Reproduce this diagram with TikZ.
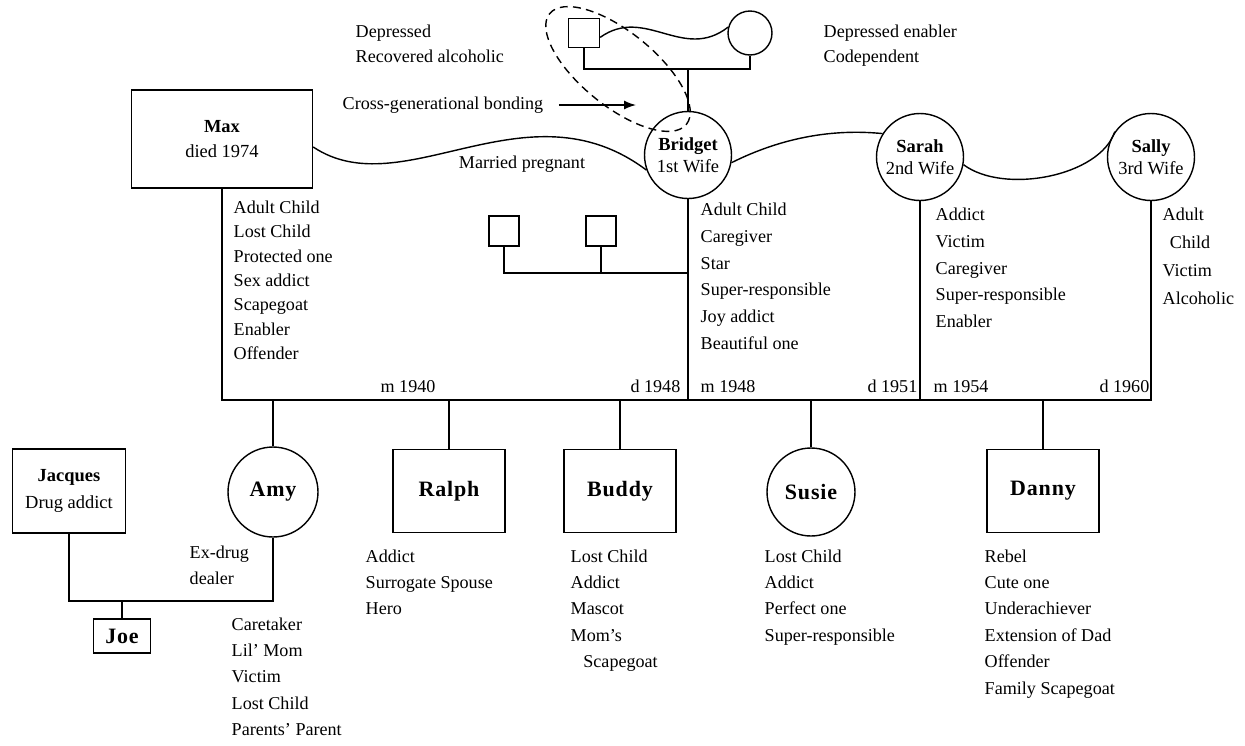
\documentclass[tikz,border=0pt]{standalone}
\usepackage{fontspec}
\setmainfont{Liberation Serif}
\newfontfamily\namefont[LetterSpace=4]{Liberation Serif}
\usetikzlibrary{arrows.meta,positioning,calc}

\begin{document}
\begin{tikzpicture}[x=0.02cm, y=-0.02cm, line width=0.8pt,
    man/.style={draw, rectangle, align=center, inner sep=1pt},
    woman/.style={draw, circle, align=center, inner sep=0pt},
    wife/.style={woman, minimum size=1.74cm, font=\fontsize{10.5}{12.5}\selectfont},
    kidname/.style={font=\namefont\bfseries\fontsize{12.5}{14}\selectfont},
    child/.style={man, kidname, minimum width=2.24cm, minimum height=1.66cm},
    roles/.style={anchor=north west, align=left, inner sep=0pt, font=\fontsize{10.3}{15}\selectfont},
    note/.style={inner sep=0pt, font=\fontsize{10.3}{14.2}\selectfont},
    bondarrow/.style={-{Latex[length=2.4mm, width=1.8mm]}, line width=0.8pt}
]
    \useasboundingbox (0,0) rectangle (1245,745);

    % grandparents
    \node[man, minimum width=0.62cm, minimum height=0.58cm] (gpa) at (584,33) {};
    \node[woman, minimum size=0.88cm] (gma) at (750,33) {};
    \node[note, anchor=north west, align=left] (gpanote) at (355,24) {Depressed\\Recovered alcoholic};
    \node[note, anchor=north west, align=left] (gmanote) at (823,24) {Depressed enabler\\Codependent};

    % parents
    \node[man, minimum width=3.62cm, minimum height=1.96cm, font=\fontsize{10.5}{14.2}\selectfont] (max) at (222,139) {\textbf{Max}\\died 1974};
    \node[wife] (bridget) at (688,155) {\textbf{Bridget}\\1st Wife};
    \node[wife] (sarah) at (920,157) {\textbf{Sarah}\\2nd Wife};
    \node[wife] (sally) at (1151,157) {\textbf{Sally}\\3rd Wife};
    \node[man, minimum size=0.6cm] (son1) at (504,231) {};
    \node[man, minimum size=0.6cm] (son2) at (601,231) {};

    % children
    \node[woman, kidname, minimum size=1.8cm] (amy) at (273,492) {Amy};
    \node[child] (ralph) at (449,491) {Ralph};
    \node[child] (buddy) at (620,491) {Buddy};
    \node[woman, kidname, minimum size=1.76cm] (susie) at (811,492) {Susie};
    \node[child] (danny) at (1043,491) {Danny};
    \node[man, minimum width=2.26cm, minimum height=1.68cm, font=\fontsize{10.5}{15}\selectfont] (jacques) at (69,491) {\textbf{Jacques}\\Drug addict};
    \node[man, kidname, minimum width=1.14cm, minimum height=0.68cm] (joe) at (122,636) {Joe};

    \node[note] (married) at (522,164) {Married pregnant};
    \node[note] (bond) at (443,105) {Cross-generational bonding};
    \coordinate (bondtip) at (636,105);

    % roles
    \node[roles, font=\fontsize{10.3}{13.9}\selectfont] (maxroles) at (233,200) {Adult Child\\Lost Child\\Protected one\\Sex addict\\Scapegoat\\Enabler\\Offender};
    \node[roles, font=\fontsize{10.3}{15.3}\selectfont] (bridgetroles) at (700,202) {Adult Child\\Caregiver\\Star\\Super-responsible\\Joy addict\\Beautiful one};
    \node[roles, font=\fontsize{10.3}{15.3}\selectfont] (sarahroles) at (935,207) {Addict\\Victim\\Caregiver\\Super-responsible\\Enabler};
    \node[roles, font=\fontsize{10.3}{15.9}\selectfont] (sallyroles) at (1162,207) {Adult\\\hspace*{0.4em}Child\\Victim\\Alcoholic};
    \node[roles] (exdrug) at (189,545) {Ex-drug\\dealer};
    \node[roles] (amyroles) at (231,617) {Caretaker\\Lil' Mom\\Victim\\Lost Child\\Parents' Parent};
    \node[roles] (ralphroles) at (365,549) {Addict\\Surrogate Spouse\\Hero};
    \node[roles] (buddyroles) at (570,549) {Lost Child\\Addict\\Mascot\\Mom's\\\hspace*{0.7em}Scapegoat};
    \node[roles] (susieroles) at (764,549) {Lost Child\\Addict\\Perfect one\\Super-responsible};
    \node[roles] (dannyroles) at (984,549) {Rebel\\Cute one\\Underachiever\\Extension of Dad\\Offender\\Family Scapegoat};

    % dates
    \node[note, anchor=base] (m1940) at (408,392) {m 1940};
    \node[note, anchor=base east] (d1948) at (681,392) {d 1948};
    \node[note, anchor=base west] (m1948) at (700,392) {m 1948};
    \node[note, anchor=base east] (d1951) at (918,392) {d 1951};
    \node[note, anchor=base west] (m1954) at (933,392) {m 1954};
    \node[note, anchor=base east] (d1960) at (1150,392) {d 1960};

    % lines
    \coordinate (gpbar) at (688,69);
    \coordinate (bar) at (0,400);
    \coordinate (sonbar) at (0,273);
    \coordinate (jbar) at (0,601);

    \draw (gpa.south) |- (gpbar) -| (gma.south);
    \draw (gpbar) -- (bridget.north);
    \draw (gpa.-15) .. controls +(45,-32) and +(-45,35) .. (gma.165);
    \draw (max.-5) .. controls +(90,60) and +(-120,-90) .. (bridget.200);
    \draw (bridget.-10) .. controls +(50,-25) and +(-50,-5) .. (sarah.148);
    \draw (sarah.-10) .. controls +(40,30) and +(-15,45) .. (sally.145);
    \draw[dash pattern=on 4.5pt off 3pt, rotate around={-39:(618,69)}] (618,69) ellipse [x radius=1.76cm, y radius=0.74cm];
    \draw[bondarrow] ([xshift=0.3cm]bond.east) -- (bondtip);

    \draw (max.south) |- (sally.south |- bar) -- (sally.south);
    \draw (bridget.south) -- (bridget.south |- bar);
    \draw (sarah.south) -- (sarah.south |- bar);
    \foreach \k in {amy,ralph,buddy,susie,danny}
        \draw (\k.north) -- (\k.north |- bar);
    \draw (son1.south) |- (bridget.south |- sonbar);
    \draw (son2.south) -- (son2.south |- sonbar);
    \draw (jacques.south) |- (amy.south |- jbar) -- (amy.south);
    \draw (joe.north) -- (joe.north |- jbar);
\end{tikzpicture}
\end{document}
